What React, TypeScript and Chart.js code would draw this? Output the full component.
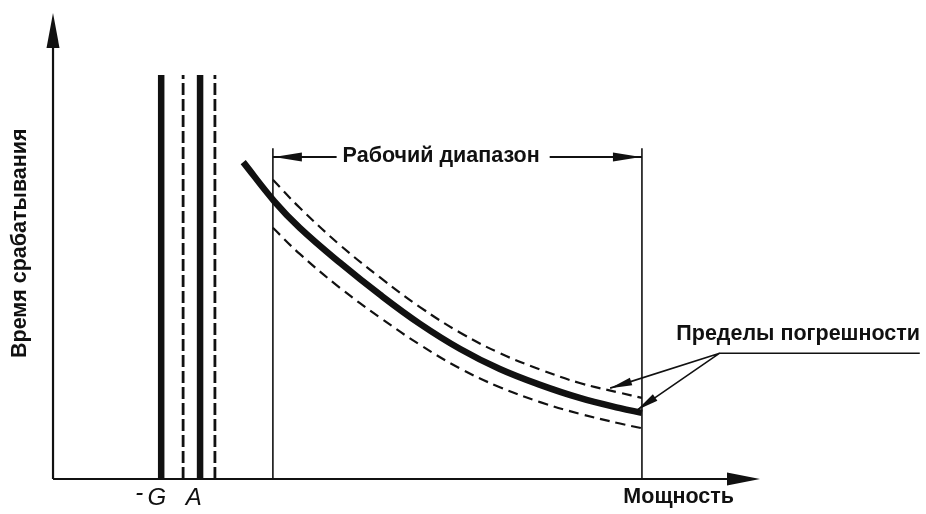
import React, { useEffect, useRef } from "react";
import { Chart, registerables } from "chart.js";

Chart.register(...registerables);

// ---- Data (abstract units: axis origin = 0, axis arrow tips ≈ 100) ----
const mainCurveX = [26.9, 31.3, 34.9, 40.6, 46.3, 51.9, 57.6, 63.2, 68.9, 74.5, 80.2, 83.3];
const mainCurveY = [68.0, 59.6, 53.9, 46.4, 39.5, 33.3, 27.9, 23.6, 20.2, 17.4, 15.2, 14.2];
const boundX = [31.1, 34.9, 40.6, 46.3, 51.9, 57.6, 63.2, 68.9, 74.5, 80.2, 83.3];
const upperBoundY = [64.2, 58.2, 50.2, 43.2, 36.9, 31.4, 27.0, 23.5, 20.6, 18.5, 17.4];
const lowerBoundY = [53.9, 48.3, 41.0, 34.6, 28.8, 23.7, 19.7, 16.5, 14.0, 11.9, 10.9];
const solidMarkerX = [15.3, 20.8]; // -G, A
const dashedMarkerX = [18.4, 22.9];
const markerTop = 86.7;
const rangeX = [31.1, 83.3];
const rangeTop = 71.0;
const rangeArrowY = 69.1;
const axisEnd = { x: 100, y: 100 };
const errorAnchor = { x: 94.3, y: 27.0 };
const errorLineEndX = 122.6;
const errorTips = [
  { x: 78.8, y: 19.5 },
  { x: 82.6, y: 14.8 },
];
const markerLabels = [
  { text: "-", x: 12.2, y: -3.0 },
  { text: "G", x: 14.7, y: -4.1 },
  { text: "A", x: 19.9, y: -4.1 },
];
const yTitle = { text: "Время срабатывания", x: -4.6, y: 50.6 };
const xTitle = { text: "Мощность", x: 88.5, y: -3.9 };
const rangeLabel = { text: "Рабочий диапазон", x: 54.9, y: 69.4 };
const errorLabel = { text: "Пределы погрешности", x: 105.4, y: 31.2 };

const INK = "#111111";
const TEXT_FONT = "bold 21.5px 'Liberation Sans', Arial, sans-serif";

function pts(xs: number[], ys: number[]) {
  return xs.map((x, i) => ({ x, y: ys[i] }));
}

function arrowHead(
  ctx: CanvasRenderingContext2D,
  fx: number,
  fy: number,
  tx: number,
  ty: number,
  len: number,
  half: number
) {
  const a = Math.atan2(ty - fy, tx - fx);
  const bx = tx - Math.cos(a) * len;
  const by = ty - Math.sin(a) * len;
  ctx.beginPath();
  ctx.moveTo(tx, ty);
  ctx.lineTo(bx + Math.sin(a) * half, by - Math.cos(a) * half);
  ctx.lineTo(bx - Math.sin(a) * half, by + Math.cos(a) * half);
  ctx.closePath();
  ctx.fill();
}

const decorPlugin = {
  id: "decor",
  afterDatasetsDraw(chart: any) {
    const ctx: CanvasRenderingContext2D = chart.ctx;
    const xs = chart.scales.x;
    const ys = chart.scales.y;
    const X = (v: number) => xs.getPixelForValue(v);
    const Y = (v: number) => ys.getPixelForValue(v);
    ctx.save();
    ctx.fillStyle = INK;
    ctx.strokeStyle = INK;

    // axis arrowheads
    arrowHead(ctx, X(0), Y(0), X(0), Y(axisEnd.y), 35, 6.5);
    arrowHead(ctx, X(0), Y(0), X(axisEnd.x), Y(0), 33, 6.5);

    // working range label + arrows
    ctx.font = TEXT_FONT;
    ctx.textAlign = "center";
    ctx.textBaseline = "middle";
    const rw = ctx.measureText(rangeLabel.text).width;
    const rcx = X(rangeLabel.x);
    ctx.fillText(rangeLabel.text, rcx, Y(rangeLabel.y));
    ctx.lineWidth = 2;
    ctx.beginPath();
    ctx.moveTo(X(rangeX[0]), Y(rangeArrowY));
    ctx.lineTo(rcx - rw / 2 - 6, Y(rangeArrowY));
    ctx.moveTo(rcx + rw / 2 + 10, Y(rangeArrowY));
    ctx.lineTo(X(rangeX[1]), Y(rangeArrowY));
    ctx.stroke();
    arrowHead(ctx, X(rangeX[1]), Y(rangeArrowY), X(rangeX[0]) + 1, Y(rangeArrowY), 28, 4.5);
    arrowHead(ctx, X(rangeX[0]), Y(rangeArrowY), X(rangeX[1]) - 1, Y(rangeArrowY), 28, 4.5);

    // error limits label + leaders
    ctx.fillText(errorLabel.text, X(errorLabel.x), Y(errorLabel.y));
    ctx.lineWidth = 1.6;
    ctx.beginPath();
    ctx.moveTo(X(errorLineEndX), Y(errorAnchor.y));
    ctx.lineTo(X(errorAnchor.x), Y(errorAnchor.y));
    errorTips.forEach((t) => {
      ctx.moveTo(X(errorAnchor.x), Y(errorAnchor.y));
      ctx.lineTo(X(t.x), Y(t.y));
    });
    ctx.stroke();
    errorTips.forEach((t) =>
      arrowHead(ctx, X(errorAnchor.x), Y(errorAnchor.y), X(t.x), Y(t.y), 22, 4)
    );

    // x title
    ctx.fillText(xTitle.text, X(xTitle.x), Y(xTitle.y));

    // marker labels
    ctx.font = "italic 24px 'Liberation Sans', Arial, sans-serif";
    markerLabels.forEach((m) => ctx.fillText(m.text, X(m.x), Y(m.y)));

    // y title
    ctx.font = TEXT_FONT;
    ctx.translate(X(yTitle.x), Y(yTitle.y));
    ctx.rotate(-Math.PI / 2);
    ctx.fillText(yTitle.text, 0, 0);
    ctx.restore();
  },
};

export default function App() {
  const ref = useRef<HTMLCanvasElement | null>(null);
  useEffect(() => {
    if (!ref.current) return;
    const line = (data: any[], width: number, dash: number[] = [], extra: any = {}) => ({
      data,
      showLine: true,
      borderColor: INK,
      borderWidth: width,
      borderDash: dash,
      pointRadius: 0,
      fill: false,
      ...extra,
    });
    const datasets: any[] = [
      // axes
      line([{ x: 0, y: 0 }, { x: 0, y: axisEnd.y - 5 }], 2.2),
      line([{ x: 0, y: 0 }, { x: axisEnd.x - 3, y: 0 }], 2.2),
      // markers -G and A
      ...solidMarkerX.map((x) => line([{ x, y: 0 }, { x, y: markerTop }], 6.5)),
      ...dashedMarkerX.map((x) => line([{ x, y: 0 }, { x, y: markerTop }], 2.8, [12, 4])),
      // working range boundaries
      ...rangeX.map((x) => line([{ x, y: 0 }, { x, y: rangeTop }], 1.6)),
      // error bounds
      line(pts(boundX, upperBoundY), 2.2, [10, 6], { tension: 0.4 }),
      line(pts(boundX, lowerBoundY), 2.2, [10, 6], { tension: 0.4 }),
      // characteristic curve
      line(pts(mainCurveX, mainCurveY), 6.5, [], { tension: 0.4, borderCapStyle: "butt" }),
    ];
    const chart = new Chart(ref.current, {
      type: "scatter",
      data: { datasets },
      options: {
        animation: false,
        responsive: false,
        devicePixelRatio: 1,
        layout: { padding: 0 },
        plugins: { legend: { display: false }, tooltip: { enabled: false } },
        scales: {
          x: { type: "linear", display: false, min: -7.5, max: 123.48 },
          y: { type: "linear", display: false, min: -7.51, max: 102.79 },
        },
      },
      plugins: [decorPlugin],
    });
    return () => chart.destroy();
  }, []);
  return (
    <div style={{ position: "fixed", left: 0, top: 0, width: 926, height: 514, background: "#fff" }}>
      <canvas ref={ref} width={926} height={514} style={{ display: "block" }} />
    </div>
  );
}
